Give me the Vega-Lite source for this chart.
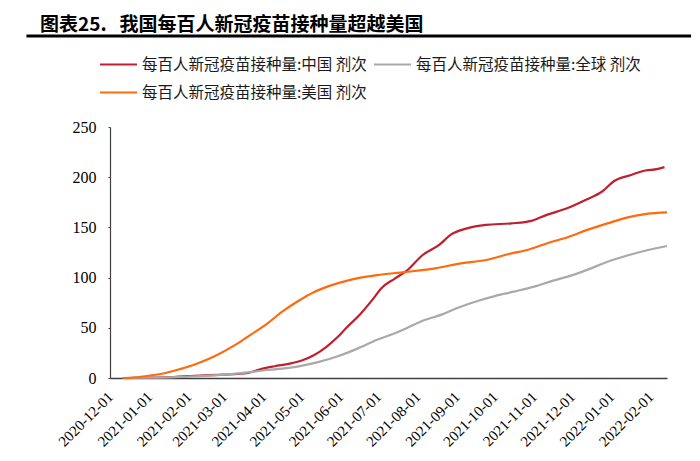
{
  "$schema": "https://vega.github.io/schema/vega-lite/v6.json",
  "width": 557,
  "height": 251,
  "autosize": {"type": "none"},
  "padding": {"left": 110, "top": 127, "right": 33, "bottom": 83},
  "background": "white",
  "config": {"view": {"stroke": null}},
  "title": {
    "text": "图表25.\u00a0\u00a0\u00a0我国每百人新冠疫苗接种量超越美国",
    "anchor": "start",
    "frame": "group",
    "font": "Noto Sans CJK SC",
    "fontSize": 19,
    "fontWeight": "bold",
    "color": "#000000",
    "dx": -70,
    "dy": 0,
    "offset": 0
  },
  "datasets": {
    "vax": [
      {"date": "2020-12-15", "series": "每百人新冠疫苗接种量:中国 剂次", "value": 0},
      {"date": "2021-01-01", "series": "每百人新冠疫苗接种量:中国 剂次", "value": 0.4},
      {"date": "2021-01-20", "series": "每百人新冠疫苗接种量:中国 剂次", "value": 1},
      {"date": "2021-02-10", "series": "每百人新冠疫苗接种量:中国 剂次", "value": 2.5},
      {"date": "2021-03-01", "series": "每百人新冠疫苗接种量:中国 剂次", "value": 3.3},
      {"date": "2021-03-20", "series": "每百人新冠疫苗接种量:中国 剂次", "value": 5},
      {"date": "2021-03-29", "series": "每百人新冠疫苗接种量:中国 剂次", "value": 8.5},
      {"date": "2021-04-10", "series": "每百人新冠疫苗接种量:中国 剂次", "value": 11.7},
      {"date": "2021-04-22", "series": "每百人新冠疫苗接种量:中国 剂次", "value": 14.3},
      {"date": "2021-05-02", "series": "每百人新冠疫苗接种量:中国 剂次", "value": 17.6},
      {"date": "2021-05-11", "series": "每百人新冠疫苗接种量:中国 剂次", "value": 22.6},
      {"date": "2021-05-21", "series": "每百人新冠疫苗接种量:中国 剂次", "value": 31},
      {"date": "2021-05-30", "series": "每百人新冠疫苗接种量:中国 剂次", "value": 41},
      {"date": "2021-06-05", "series": "每百人新冠疫苗接种量:中国 剂次", "value": 49},
      {"date": "2021-06-17", "series": "每百人新冠疫苗接种量:中国 剂次", "value": 64},
      {"date": "2021-06-27", "series": "每百人新冠疫苗接种量:中国 剂次", "value": 79},
      {"date": "2021-07-03", "series": "每百人新冠疫苗接种量:中国 剂次", "value": 89},
      {"date": "2021-07-14", "series": "每百人新冠疫苗接种量:中国 剂次", "value": 99},
      {"date": "2021-07-24", "series": "每百人新冠疫苗接种量:中国 剂次", "value": 107.5},
      {"date": "2021-08-05", "series": "每百人新冠疫苗接种量:中国 剂次", "value": 122.5},
      {"date": "2021-08-18", "series": "每百人新冠疫苗接种量:中国 剂次", "value": 132.5},
      {"date": "2021-08-27", "series": "每百人新冠疫苗接种量:中国 剂次", "value": 142.5},
      {"date": "2021-09-09", "series": "每百人新冠疫苗接种量:中国 剂次", "value": 149},
      {"date": "2021-09-24", "series": "每百人新冠疫苗接种量:中国 剂次", "value": 152.5},
      {"date": "2021-10-14", "series": "每百人新冠疫苗接种量:中国 剂次", "value": 154},
      {"date": "2021-10-30", "series": "每百人新冠疫苗接种量:中国 剂次", "value": 156.5},
      {"date": "2021-11-11", "series": "每百人新冠疫苗接种量:中国 剂次", "value": 162.5},
      {"date": "2021-11-27", "series": "每百人新冠疫苗接种量:中国 剂次", "value": 169},
      {"date": "2021-12-12", "series": "每百人新冠疫苗接种量:中国 剂次", "value": 177.5},
      {"date": "2021-12-25", "series": "每百人新冠疫苗接种量:中国 剂次", "value": 186},
      {"date": "2022-01-03", "series": "每百人新冠疫苗接种量:中国 剂次", "value": 196},
      {"date": "2022-01-16", "series": "每百人新冠疫苗接种量:中国 剂次", "value": 202},
      {"date": "2022-01-28", "series": "每百人新冠疫苗接种量:中国 剂次", "value": 206.7},
      {"date": "2022-02-06", "series": "每百人新冠疫苗接种量:中国 剂次", "value": 208},
      {"date": "2022-02-12", "series": "每百人新冠疫苗接种量:中国 剂次", "value": 210},

      {"date": "2020-12-11", "series": "每百人新冠疫苗接种量:全球 剂次", "value": 0},
      {"date": "2021-01-01", "series": "每百人新冠疫苗接种量:全球 剂次", "value": 0.3},
      {"date": "2021-02-01", "series": "每百人新冠疫苗接种量:全球 剂次", "value": 1.4},
      {"date": "2021-03-01", "series": "每百人新冠疫苗接种量:全球 剂次", "value": 3.3},
      {"date": "2021-04-01", "series": "每百人新冠疫苗接种量:全球 剂次", "value": 7.5},
      {"date": "2021-04-29", "series": "每百人新冠疫苗接种量:全球 剂次", "value": 11.5},
      {"date": "2021-05-15", "series": "每百人新冠疫苗接种量:全球 剂次", "value": 16},
      {"date": "2021-05-30", "series": "每百人新冠疫苗接种量:全球 剂次", "value": 21.6},
      {"date": "2021-06-14", "series": "每百人新冠疫苗接种量:全球 剂次", "value": 29},
      {"date": "2021-06-30", "series": "每百人新冠疫苗接种量:全球 剂次", "value": 38},
      {"date": "2021-07-16", "series": "每百人新冠疫苗接种量:全球 剂次", "value": 45.5},
      {"date": "2021-07-24", "series": "每百人新冠疫苗接种量:全球 剂次", "value": 50},
      {"date": "2021-08-05", "series": "每百人新冠疫苗接种量:全球 剂次", "value": 57},
      {"date": "2021-08-21", "series": "每百人新冠疫苗接种量:全球 剂次", "value": 63.6},
      {"date": "2021-09-03", "series": "每百人新冠疫苗接种量:全球 剂次", "value": 70.5},
      {"date": "2021-09-18", "series": "每百人新冠疫苗接种量:全球 剂次", "value": 77},
      {"date": "2021-10-01", "series": "每百人新冠疫苗接种量:全球 剂次", "value": 81.6},
      {"date": "2021-10-16", "series": "每百人新冠疫苗接种量:全球 剂次", "value": 86},
      {"date": "2021-11-01", "series": "每百人新冠疫苗接种量:全球 剂次", "value": 91},
      {"date": "2021-11-16", "series": "每百人新冠疫苗接种量:全球 剂次", "value": 97},
      {"date": "2021-11-29", "series": "每百人新冠疫苗接种量:全球 剂次", "value": 101.5},
      {"date": "2021-12-14", "series": "每百人新冠疫苗接种量:全球 剂次", "value": 108.2},
      {"date": "2021-12-29", "series": "每百人新冠疫苗接种量:全球 剂次", "value": 115.8},
      {"date": "2022-01-15", "series": "每百人新冠疫苗接种量:全球 剂次", "value": 122.5},
      {"date": "2022-01-30", "series": "每百人新冠疫苗接种量:全球 剂次", "value": 127.5},
      {"date": "2022-02-14", "series": "每百人新冠疫苗接种量:全球 剂次", "value": 131.5},

      {"date": "2020-12-11", "series": "每百人新冠疫苗接种量:美国 剂次", "value": 0},
      {"date": "2020-12-20", "series": "每百人新冠疫苗接种量:美国 剂次", "value": 0.5},
      {"date": "2021-01-03", "series": "每百人新冠疫苗接种量:美国 剂次", "value": 2.7},
      {"date": "2021-01-12", "series": "每百人新冠疫苗接种量:美国 剂次", "value": 4.5},
      {"date": "2021-01-22", "series": "每百人新冠疫苗接种量:美国 剂次", "value": 7.7},
      {"date": "2021-02-07", "series": "每百人新冠疫苗接种量:美国 剂次", "value": 14},
      {"date": "2021-02-22", "series": "每百人新冠疫苗接种量:美国 剂次", "value": 22},
      {"date": "2021-03-10", "series": "每百人新冠疫苗接种量:美国 剂次", "value": 33},
      {"date": "2021-03-22", "series": "每百人新冠疫苗接种量:美国 剂次", "value": 43},
      {"date": "2021-04-04", "series": "每百人新冠疫苗接种量:美国 剂次", "value": 54},
      {"date": "2021-04-16", "series": "每百人新冠疫苗接种量:美国 剂次", "value": 66},
      {"date": "2021-04-29", "series": "每百人新冠疫苗接种量:美国 剂次", "value": 77},
      {"date": "2021-05-11", "series": "每百人新冠疫苗接种量:美国 剂次", "value": 85.5},
      {"date": "2021-05-24", "series": "每百人新冠疫苗接种量:美国 剂次", "value": 92},
      {"date": "2021-06-05", "series": "每百人新冠疫苗接种量:美国 剂次", "value": 96.5},
      {"date": "2021-06-17", "series": "每百人新冠疫苗接种量:美国 剂次", "value": 100},
      {"date": "2021-06-30", "series": "每百人新冠疫苗接种量:美国 剂次", "value": 102.5},
      {"date": "2021-07-22", "series": "每百人新冠疫苗接种量:美国 剂次", "value": 105.5},
      {"date": "2021-08-16", "series": "每百人新冠疫苗接种量:美国 剂次", "value": 109.5},
      {"date": "2021-09-01", "series": "每百人新冠疫苗接种量:美国 剂次", "value": 113.5},
      {"date": "2021-09-26", "series": "每百人新冠疫苗接种量:美国 剂次", "value": 118},
      {"date": "2021-10-12", "series": "每百人新冠疫苗接种量:美国 剂次", "value": 123.5},
      {"date": "2021-10-28", "series": "每百人新冠疫苗接种量:美国 剂次", "value": 128},
      {"date": "2021-11-12", "series": "每百人新冠疫苗接种量:美国 剂次", "value": 134.5},
      {"date": "2021-11-28", "series": "每百人新冠疫苗接种量:美国 剂次", "value": 140.5},
      {"date": "2021-12-13", "series": "每百人新冠疫苗接种量:美国 剂次", "value": 147.5},
      {"date": "2021-12-29", "series": "每百人新冠疫苗接种量:美国 剂次", "value": 154},
      {"date": "2022-01-14", "series": "每百人新冠疫苗接种量:美国 剂次", "value": 160},
      {"date": "2022-01-29", "series": "每百人新冠疫苗接种量:美国 剂次", "value": 163.5},
      {"date": "2022-02-14", "series": "每百人新冠疫苗接种量:美国 剂次", "value": 165}
    ]
  },
  "layer": [
    {
      "data": {"values": [{}]},
      "mark": {"type": "rule", "strokeWidth": 3, "color": "#000000", "clip": false},
      "encoding": {
        "x": {"datum": {"year": 2020, "month": 9, "date": 26, "utc": true}, "type": "temporal"},
        "x2": {"datum": {"year": 2022, "month": 3, "date": 5, "utc": true}},
        "y": {"datum": 340.6, "type": "quantitative"}
      }
    },
    {
      "data": {"name": "vax"},
      "mark": {"type": "line", "strokeWidth": 2.2, "interpolate": "monotone"},
      "encoding": {
        "x": {
          "field": "date",
          "type": "temporal",
          "scale": {
            "type": "utc",
            "domain": [
              {"year": 2020, "month": 12, "date": 1, "utc": true},
              {"year": 2022, "month": 2, "date": 14, "utc": true}
            ]
          },
          "axis": {
            "title": null,
            "format": "%Y-%m-%d",
            "tickCount": {"interval": "month", "step": 1},
            "labelAngle": -45,
            "labelAlign": "right",
            "labelBaseline": "middle",
            "labelPadding": 16,
            "labelFont": "Liberation Serif",
            "labelFontSize": 15,
            "labelColor": "#000000",
            "labelOverlap": false,
            "labelFlush": false,
            "ticks": false,
            "grid": false,
            "domainColor": "#404040",
            "domainWidth": 1.5
          }
        },
        "y": {
          "field": "value",
          "type": "quantitative",
          "scale": {"domain": [0, 250], "nice": false, "zero": true},
          "axis": {
            "title": null,
            "values": [0, 50, 100, 150, 200, 250],
            "labelFont": "Liberation Serif",
            "labelFontSize": 16,
            "labelColor": "#000000",
            "labelPadding": 12,
            "tickSize": 2,
            "tickColor": "#404040",
            "domainColor": "#404040",
            "domainWidth": 1.2,
            "grid": false
          }
        },
        "color": {
          "field": "series",
          "type": "nominal",
          "scale": {
            "domain": ["每百人新冠疫苗接种量:中国 剂次", "每百人新冠疫苗接种量:全球 剂次", "每百人新冠疫苗接种量:美国 剂次"],
            "range": ["#C0202E", "#A9A9A9", "#FF6A0D"]
          },
          "legend": {
            "orient": "none",
            "legendX": -11,
            "legendY": -82,
            "direction": "horizontal",
            "columns": 2,
            "title": null,
            "padding": 0,
            "symbolType": "stroke",
            "symbolSize": 1369,
            "symbolStrokeWidth": 2,
            "labelFont": "Noto Sans CJK SC",
            "labelFontSize": 15.5,
            "labelColor": "#1a1a1a",
            "labelOffset": 4,
            "labelLimit": 400,
            "columnPadding": 3,
            "rowPadding": -9
          }
        }
      }
    }
  ]
}
